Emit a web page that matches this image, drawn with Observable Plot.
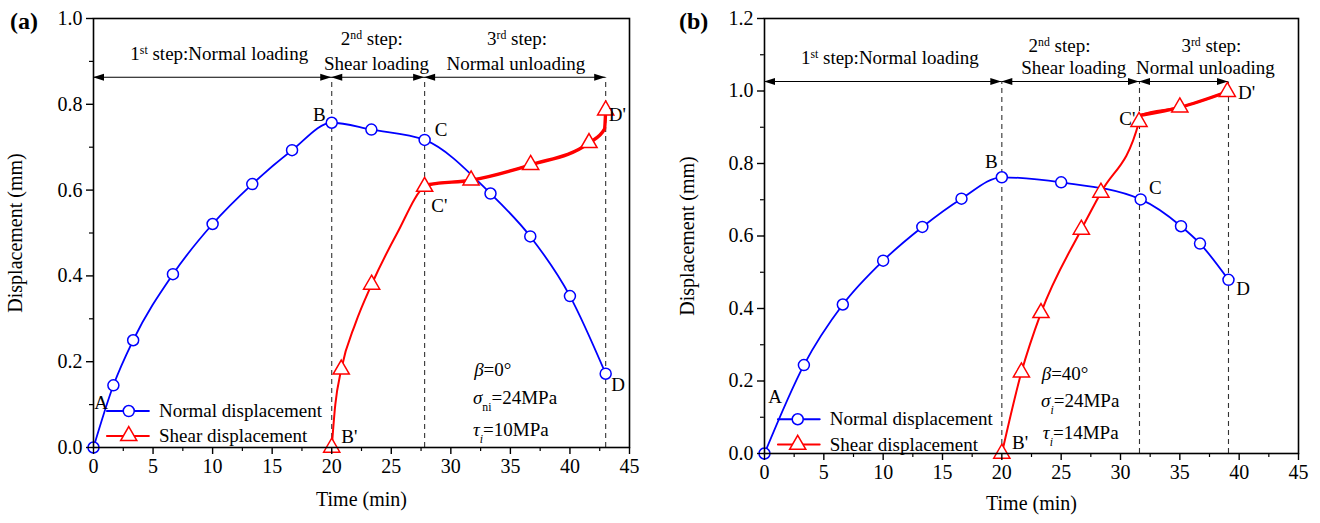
<!DOCTYPE html>
<html><head><meta charset="utf-8">
<script src="https://cdn.jsdelivr.net/npm/d3@7"></script>
<script src="https://cdn.jsdelivr.net/npm/@observablehq/plot@0.6"></script>
<style>
body{margin:0;background:#fff;width:1320px;height:523px;overflow:hidden;position:relative;font-family:"Liberation Serif","Times New Roman",serif;}
.panel{position:absolute;top:0;}
.plabel{position:absolute;top:8px;font-weight:bold;font-size:24px;color:#000;}
</style></head><body>
<div id="a" class="panel" style="left:0"></div>
<div id="b" class="panel" style="left:660px"></div>
<div class="plabel" style="left:10px">(a)</div>
<div class="plabel" style="left:679px">(b)</div>
<script>
// ---------- Axis ticks ----------
const xTicks = [0,5,10,15,20,25,30,35,40,45];
const xMinor = [2.5,7.5,12.5,17.5,22.5,27.5,32.5,37.5,42.5];
const yTicksA = [0,0.2,0.4,0.6,0.8,1.0];
const yMinorA = [0.1,0.3,0.5,0.7,0.9];
const yTicksB = [0,0.2,0.4,0.6,0.8,1.0,1.2];
const yMinorB = [0.1,0.3,0.5,0.7,0.9,1.1];

// ---------- Data: panel (a) ----------
const normalTimeA  = [0,1.67,3.33,6.67,10,13.33,16.67,20,23.33,27.8,33.33,36.67,40,43];
const normalDispA  = [0,0.145,0.25,0.404,0.521,0.614,0.693,0.757,0.741,0.717,0.592,0.492,0.353,0.172];
const shearTimeA   = [20,20.8,23.35,27.8,31.7,36.7,41.6,43];
const shearDispA   = [0,0.182,0.38,0.608,0.623,0.659,0.71,0.786];
const shearLineTA  = [20,20.3,20.8,22,23.35,25.5,27.8,28.2,31.7,36.7,41.6,42.9,43];
const shearLineYA  = [0,0.1,0.182,0.29,0.38,0.5,0.608,0.613,0.623,0.659,0.71,0.742,0.786];

// ---------- Data: panel (b) ----------
const normalTimeB  = [0,3.32,6.6,10,13.3,16.6,20,25,31.7,35.1,36.7,39.1];
const normalDispB  = [0,0.244,0.411,0.532,0.625,0.703,0.762,0.748,0.701,0.627,0.579,0.479];
const shearTimeB   = [20,21.65,23.3,26.7,28.35,31.56,35,39];
const shearDispB   = [0,0.224,0.388,0.618,0.72,0.915,0.955,0.998];
const shearLineTB  = [20,21.65,23.3,26.7,28.35,31.56,31.7,35,39];
const shearLineYB  = [0,0.224,0.388,0.618,0.72,0.915,0.933,0.955,0.998];

// step boundaries (min) and arrow level (mm)
const stepsA = [0,20,27.8,43];
const stepsB = [0,20,31.6,39.1];
const arrowYA = 0.862, arrowYB = 1.025;

const seriesNames = ["Normal displacement","Shear displacement"];

function zip(xs, ys){ return xs.map((x,i)=>({x, y: ys[i]})); }

function richLayer(items, fontSize){
  return (index, scales) => {
    const g = d3.create("svg:g").attr("font-size", fontSize).attr("fill","black");
    for (const it of items){
      const t = g.append("text").attr("x", scales.x(it.x)).attr("y", scales.y(it.y))
        .attr("dy","0.35em").attr("text-anchor", it.anchor || "start");
      for (const [s, kind] of it.parts){
        const ts = t.append("tspan").text(s);
        if (kind === "i") ts.attr("font-style","italic");
        if (kind === "sup") ts.attr("baseline-shift","super").attr("font-size","0.62em");
        if (kind === "sub") ts.attr("baseline-shift","sub").attr("font-size","0.62em");
        if (kind === "isub") ts.attr("baseline-shift","sub").attr("font-size","0.62em").attr("font-style","italic");
      }
    }
    return g.node();
  };
}

function arrowLayer(steps, yv){
  return (index, scales) => {
    const g = d3.create("svg:g");
    const yy = scales.y(yv);
    for (let i = 0; i < steps.length - 1; i++){
      const x1 = scales.x(steps[i]), x2 = scales.x(steps[i+1]);
      g.append("line").attr("x1",x1).attr("x2",x2).attr("y1",yy).attr("y2",yy)
        .attr("stroke","black").attr("stroke-width",1.1);
      g.append("path").attr("d",`M${x1},${yy}L${x1+11},${yy-3.5}L${x1+11},${yy+3.5}Z`).attr("fill","black");
      g.append("path").attr("d",`M${x2},${yy}L${x2-11},${yy-3.5}L${x2-11},${yy+3.5}Z`).attr("fill","black");
    }
    return g.node();
  };
}

function panel(cfg){
  const normal = zip(cfg.nT, cfg.nY);
  const shearM = zip(cfg.sT, cfg.sY);
  const shearL = zip(cfg.lT, cfg.lY);
  const lg = cfg.legend;
  const legLines = [
    {x: lg.x1, y: lg.y1, s: 0},{x: lg.x2, y: lg.y1, s: 0},
    {x: lg.x1, y: lg.y2, s: 1},{x: lg.x2, y: lg.y2, s: 1}
  ];
  return Plot.plot({
    width: 660, height: 523,
    marginLeft: cfg.ml, marginRight: cfg.mr, marginTop: cfg.mt, marginBottom: cfg.mb,
    style: {fontFamily: "Liberation Serif, 'Times New Roman', serif", fontSize: "20px", color: "black", background: "white", overflow: "visible"},
    x: {domain: [0,45]},
    y: {domain: cfg.yDomain},
    marks: [
      Plot.ruleX(cfg.steps.slice(1), {y1: 0, y2: cfg.arrowY, stroke: "#333", strokeDasharray: "5,4", strokeWidth: 1.1}),
      arrowLayer(cfg.steps, cfg.arrowY),
      Plot.line(normal, {x: "x", y: "y", stroke: "#0000ff", strokeWidth: 1.8, curve: "monotone-x"}),
      Plot.line(shearL, {x: "x", y: "y", stroke: "#ff0000", strokeWidth: 2, curve: "monotone-x"}),
      Plot.line(shearL.filter(d => d.x >= cfg.thickFrom), {x: "x", y: "y", stroke: "#ff0000", strokeWidth: 3.4, curve: "monotone-x"}),
      Plot.dot(normal, {x: "x", y: "y", r: 5.5, fill: "white", stroke: "#0000ff", strokeWidth: 1.5}),
      Plot.dot(shearM, {x: "x", y: "y", symbol: "triangle", r: 6, fill: "white", stroke: "#ff0000", strokeWidth: 1.5}),
      // legend
      Plot.line(legLines, {x: "x", y: "y", z: "s", stroke: d => d.s ? "#ff0000" : "#0000ff", strokeWidth: 2}),
      Plot.dot([{x: lg.xm, y: lg.y1}], {x: "x", y: "y", r: 5.5, fill: "white", stroke: "#0000ff", strokeWidth: 1.5}),
      Plot.dot([{x: lg.xm, y: lg.y2}], {x: "x", y: "y", symbol: "triangle", r: 6, fill: "white", stroke: "#ff0000", strokeWidth: 1.5}),
      Plot.text([{x: lg.xt, y: lg.y1, t: seriesNames[0]}, {x: lg.xt, y: lg.y2, t: seriesNames[1]}],
        {x: "x", y: "y", text: "t", textAnchor: "start", fontSize: 19, fill: "black"}),
      richLayer(cfg.texts, 19),
      Plot.frame({stroke: "black", strokeWidth: 1.6}),
      Plot.axisX({ticks: xTicks, tickSize: 7, tickPadding: 4, strokeWidth: 1.4, tickFormat: d => d,
        label: "Time (min)", labelAnchor: "center", labelArrow: "none", labelOffset: cfg.xLabelOffset}),
      Plot.axisX({ticks: xMinor, tickSize: 4, strokeWidth: 1.2, tickFormat: () => "", label: null}),
      Plot.axisY({ticks: cfg.yTicks, tickSize: 7, tickPadding: 4, strokeWidth: 1.4, tickFormat: d3.format(".1f"),
        label: "Displacement (mm)", labelAnchor: "center", labelArrow: "none", labelOffset: cfg.yLabelOffset}),
      Plot.axisY({ticks: cfg.yMinor, tickSize: 4, strokeWidth: 1.2, tickFormat: () => "", label: null})
    ]
  });
}

const textsA = [
  {x: 10.6, y: 0.918, anchor: "middle", parts: [["1"],["st","sup"],[" step:Normal loading"]]},
  {x: 23.4, y: 0.953, anchor: "middle", parts: [["2"],["nd","sup"],[" step:"]]},
  {x: 23.8, y: 0.894, anchor: "middle", parts: [["Shear loading"]]},
  {x: 35.6, y: 0.953, anchor: "middle", parts: [["3"],["rd","sup"],[" step:"]]},
  {x: 35.5, y: 0.894, anchor: "middle", parts: [["Normal unloading"]]},
  {x: 32.0, y: 0.18, parts: [["β","i"],["=0°"]]},
  {x: 31.9, y: 0.116, parts: [["σ","i"],["ni","sub"],["=24MPa"]]},
  {x: 31.9, y: 0.041, parts: [["τ","i"],["i","isub"],["=10MPa"]]},
  {x: 0.1, y: 0.105, parts: [["A"]]},
  {x: 19.0, y: 0.776, anchor: "middle", parts: [["B"]]},
  {x: 20.85, y: 0.025, parts: [["B'"]]},
  {x: 28.7, y: 0.741, parts: [["C"]]},
  {x: 28.4, y: 0.564, parts: [["C'"]]},
  {x: 43.5, y: 0.146, parts: [["D"]]},
  {x: 43.3, y: 0.776, parts: [["D'"]]}
];
const textsB = [
  {x: 10.6, y: 1.092, anchor: "middle", parts: [["1"],["st","sup"],[" step:Normal loading"]]},
  {x: 24.9, y: 1.124, anchor: "middle", parts: [["2"],["nd","sup"],[" step:"]]},
  {x: 26.1, y: 1.064, anchor: "middle", parts: [["Shear loading"]]},
  {x: 37.7, y: 1.124, anchor: "middle", parts: [["3"],["rd","sup"],[" step:"]]},
  {x: 37.2, y: 1.064, anchor: "middle", parts: [["Normal unloading"]]},
  {x: 23.4, y: 0.219, parts: [["β","i"],["=40°"]]},
  {x: 23.35, y: 0.144, parts: [["σ","i"],["i","isub"],["=24MPa"]]},
  {x: 23.5, y: 0.056, parts: [["τ","i"],["i","isub"],["=14MPa"]]},
  {x: 0.36, y: 0.156, parts: [["A"]]},
  {x: 19.15, y: 0.805, anchor: "middle", parts: [["B"]]},
  {x: 20.9, y: 0.03, parts: [["B'"]]},
  {x: 32.45, y: 0.733, parts: [["C"]]},
  {x: 31.3, y: 0.924, anchor: "end", parts: [["C'"]]},
  {x: 39.8, y: 0.454, parts: [["D"]]},
  {x: 39.95, y: 0.995, parts: [["D'"]]}
];

document.getElementById("a").append(panel({
  ml: 93, mr: 31, mt: 18, mb: 76, yDomain: [0,1], yTicks: yTicksA, yMinor: yMinorA,
  nT: normalTimeA, nY: normalDispA, sT: shearTimeA, sY: shearDispA, lT: shearLineTA, lY: shearLineYA,
  steps: stepsA, arrowY: arrowYA, thickFrom: 27.8, texts: textsA,
  legend: {x1: 1.13, x2: 4.65, xm: 2.96, xt: 5.5, y1: 0.085, y2: 0.027},
  xLabelOffset: 58, yLabelOffset: 86
}));
document.getElementById("b").append(panel({
  ml: 104, mr: 22, mt: 18, mb: 70, yDomain: [0,1.2], yTicks: yTicksB, yMinor: yMinorB,
  nT: normalTimeB, nY: normalDispB, sT: shearTimeB, sY: shearDispB, lT: shearLineTB, lY: shearLineYB,
  steps: stepsB, arrowY: arrowYB, thickFrom: 31.7, texts: textsB,
  legend: {x1: 1.13, x2: 4.65, xm: 2.8, xt: 5.5, y1: 0.0945, y2: 0.0245},
  xLabelOffset: 56, yLabelOffset: 85
}));
</script>
</body></html>
